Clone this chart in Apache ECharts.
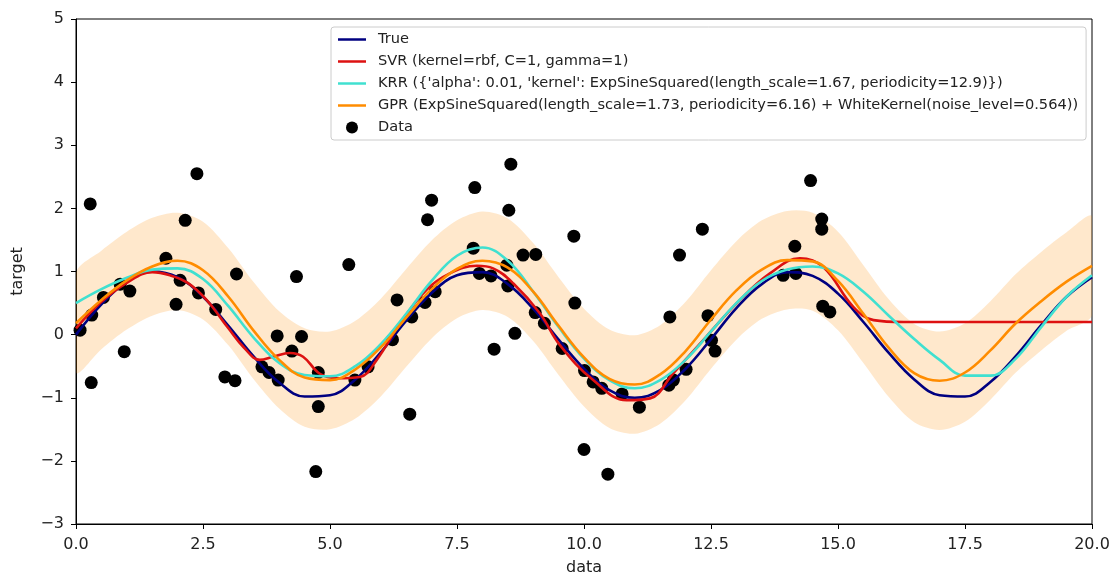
<!DOCTYPE html>
<html>
<head>
<meta charset="utf-8">
<script src="https://cdn.jsdelivr.net/npm/echarts@6/dist/echarts.min.js"></script>
<style>
html,body{margin:0;padding:0;background:#fff;}
#chart{width:1118px;height:579px;}
</style>
</head>
<body>
<div id="chart"></div>
<script>
// ---- data ----
var xTicks = [0, 2.5, 5, 7.5, 10, 12.5, 15, 17.5, 20];
var yTicks = [-3, -2, -1, 0, 1, 2, 3, 4, 5];

var seriesNames = [
  "True",
  "SVR (kernel=rbf, C=1, gamma=1)",
  "KRR ({'alpha': 0.01, 'kernel': ExpSineSquared(length_scale=1.67, periodicity=12.9)})",
  "GPR (ExpSineSquared(length_scale=1.73, periodicity=6.16) + WhiteKernel(noise_level=0.564))",
  "Data"
];

// common sample positions of the curves
var curveX = [0,0.5,1,1.5,2,2.5,3,3.5,4,4.5,5,5.5,6,6.5,7,7.5,8,8.5,9,9.5,10,
              10.5,11,11.5,12,12.5,13,13.5,14,14.5,15,15.5,16,16.5,17,17.5,18,18.5,19,19.5,20];

var trueY = [0,0.48,0.84,1.0,0.91,0.6,0.14,-0.35,-0.76,-0.98,-0.96,-0.71,-0.28,0.22,0.66,0.94,0.99,0.8,0.41,-0.08,
             -0.54,-0.88,-1.0,-0.88,-0.54,-0.07,0.42,0.8,0.99,0.93,0.65,0.2,-0.29,-0.71,-0.96,-0.98,-0.75,-0.34,0.15,0.6,0.91];

var svrX = [0,0.5,1,1.5,1.85,2.2,2.57,3.0,3.3,3.62,3.88,4.21,4.47,4.8,5.13,5.59,5.92,6.38,6.9,7.36,
            7.89,8.21,8.61,9.13,9.53,10.18,10.84,11.3,11.76,12.41,13.07,13.66,14.25,14.71,15.3,15.7,16.29,17,18,19,20];
var svrY = [0.1,0.52,0.82,0.99,0.94,0.82,0.55,0.1,-0.2,-0.40,-0.35,-0.29,-0.35,-0.62,-0.69,-0.67,-0.40,0.18,0.71,0.97,
            1.09,1.05,0.81,0.34,-0.17,-0.72,-1.04,-1.01,-0.61,-0.03,0.55,0.97,1.21,1.07,0.44,0.23,0.2,0.2,0.2,0.2,0.2];

var krrY = [0.5,0.72,0.9,1.03,1.05,0.88,0.45,-0.05,-0.45,-0.64,-0.66,-0.5,-0.15,0.33,0.85,1.25,1.38,1.17,0.68,0.12,
            -0.38,-0.72,-0.85,-0.72,-0.4,0.05,0.5,0.85,1.03,1.08,0.97,0.68,0.3,-0.07,-0.4,-0.65,-0.65,-0.38,0.12,0.6,0.94];

var gprY = [0.18,0.55,0.86,1.08,1.17,1.02,0.6,0.06,-0.4,-0.68,-0.72,-0.55,-0.2,0.27,0.72,1.04,1.17,1.06,0.68,0.14,
            -0.36,-0.7,-0.79,-0.63,-0.26,0.24,0.7,1.03,1.18,1.16,0.85,0.33,-0.21,-0.61,-0.73,-0.6,-0.25,0.18,0.53,0.84,1.09];

var bandUpper = [0.98,1.33,1.63,1.85,1.93,1.79,1.37,0.83,0.37,0.1,0.05,0.22,0.57,1.04,1.49,1.81,1.95,1.84,1.45,0.91,
                 0.41,0.08,-0.01,0.15,0.52,1.02,1.48,1.81,1.96,1.93,1.63,1.1,0.56,0.17,0.05,0.18,0.53,0.96,1.31,1.62,1.87];
var bandLower = [-0.6,-0.23,0.08,0.3,0.39,0.24,-0.17,-0.71,-1.17,-1.46,-1.5,-1.33,-0.98,-0.51,-0.06,0.26,0.39,0.28,-0.1,-0.64,
                 -1.14,-1.48,-1.57,-1.41,-1.04,-0.54,-0.08,0.25,0.4,0.38,0.07,-0.45,-0.99,-1.39,-1.51,-1.38,-1.03,-0.6,-0.25,0.06,0.31];

var dataX = [0.08,0.28,0.30,0.31,0.54,0.87,0.95,1.06,1.77,1.97,2.05,2.15,2.38,2.41,2.75,2.93,3.13,3.16,3.66,3.80,
             3.96,3.98,4.25,4.34,4.44,4.72,4.77,4.77,5.37,5.49,5.75,6.23,6.32,6.57,6.61,6.87,6.92,7.00,7.07,7.82,
             7.85,7.94,8.17,8.23,8.48,8.50,8.52,8.56,8.64,8.80,9.04,9.05,9.22,9.57,9.80,9.82,10.00,10.01,10.18,10.35,
             10.47,10.75,11.09,11.67,11.69,11.76,11.88,12.01,12.33,12.44,12.51,12.58,13.92,14.17,14.15,14.46,14.68,14.68,14.70,14.84];
var dataY = [0.07,2.07,-0.76,0.31,0.59,0.80,-0.27,0.69,1.21,0.48,0.86,1.81,2.55,0.66,0.40,-0.67,-0.73,0.96,-0.51,-0.60,
             -0.02,-0.72,-0.26,0.92,-0.03,-2.17,-0.60,-1.14,1.11,-0.72,-0.51,-0.08,0.55,-1.26,0.28,0.51,1.82,2.13,0.68,1.37,
             2.33,0.97,0.93,-0.23,1.10,0.77,1.97,2.70,0.02,1.26,0.35,1.27,0.18,-0.22,1.56,0.50,-1.82,-0.57,-0.75,-0.85,
             -2.21,-0.94,-1.15,-0.80,0.28,-0.72,1.26,-0.55,1.67,0.30,-0.09,-0.26,0.94,0.97,1.40,2.44,1.83,1.67,0.45,0.36];

// ---- build series data ----
function pairs(xs, ys){ return xs.map(function(x,i){ return [x, ys[i]]; }); }
var bandRows = curveX.map(function(x,i){ return [x, bandUpper[i], bandLower[i]]; });

var FONT = "DejaVu Sans";
var LINE_ICON = 'path://M0,0 L56,0 L56,5 L0,5 Z';
var chart = echarts.init(document.getElementById('chart'), null, {renderer:'canvas'});
chart.setOption({
  animation: false,
  backgroundColor: '#ffffff',
  grid: {left: 76, right: 26, top: 19, bottom: 55, containLabel: false, outerBoundsMode: 'none',
         show: true, borderColor: '#000', borderWidth: 1, backgroundColor: 'transparent'},
  xAxis: {
    type: 'value', min: 0, max: 20, interval: 2.5,
    name: 'data', nameLocation: 'middle', nameGap: 36,
    nameTextStyle: {fontFamily: FONT, fontSize: 16, color: '#222'},
    axisLine: {show: true, onZero: false, lineStyle: {color: '#000', width: 1}},
    axisTick: {show: true, inside: false, length: 5, lineStyle: {color: '#000'}},
    axisLabel: {fontFamily: FONT, fontSize: 16, color: '#222', margin: 13,
      formatter: function(v){ return xTicks.indexOf(v) >= 0 ? v.toFixed(1) : ''; }},
    splitLine: {show: false}
  },
  yAxis: {
    type: 'value', min: -3, max: 5, interval: 1,
    name: 'target', nameLocation: 'middle', nameGap: 50, nameRotate: 90,
    nameTextStyle: {fontFamily: FONT, fontSize: 16, color: '#222'},
    axisLine: {show: true, onZero: false, lineStyle: {color: '#000', width: 1}},
    axisTick: {show: true, inside: false, length: 5, lineStyle: {color: '#000'}},
    axisLabel: {fontFamily: FONT, fontSize: 16, color: '#222', margin: 12,
      formatter: function(v){ return yTicks.indexOf(v) >= 0 ? (v < 0 ? '\u2212' + Math.abs(v) : String(v)) : ''; }},
    splitLine: {show: false}
  },
  legend: {
    left: 331, top: 27, orient: 'vertical',
    padding: [4, 8, 4, 7],
    itemWidth: 28, itemHeight: 12, itemGap: 5,
    backgroundColor: 'rgba(255,255,255,0.85)', borderColor: '#cccccc', borderWidth: 1, borderRadius: 3,
    textStyle: {fontFamily: FONT, fontSize: 14.6, color: '#222', padding: [0,0,0,7], lineHeight: 17},
    data: [
      {name: seriesNames[0], icon: LINE_ICON},
      {name: seriesNames[1], icon: LINE_ICON},
      {name: seriesNames[2], icon: LINE_ICON},
      {name: seriesNames[3], icon: LINE_ICON},
      {name: seriesNames[4], icon: 'circle'}
    ]
  },
  series: [
    {name: seriesNames[4], type: 'scatter', data: pairs(dataX, dataY), symbolSize: 13,
     itemStyle: {color: '#000', opacity: 1}},
    {name: seriesNames[0], type: 'line', data: pairs(curveX, trueY), smooth: 0.4, symbol: 'none',
     lineStyle: {color: '#000080', width: 2.6}, itemStyle: {color: '#000080'}},
    {name: seriesNames[1], type: 'line', data: pairs(svrX, svrY), smooth: 0.4, symbol: 'none',
     lineStyle: {color: '#dd1111', width: 2.6}, itemStyle: {color: '#dd1111'}},
    {name: seriesNames[2], type: 'line', data: pairs(curveX, krrY), smooth: 0.4, symbol: 'none',
     lineStyle: {color: '#40e0d0', width: 2.6}, itemStyle: {color: '#40e0d0'}},
    {name: seriesNames[3], type: 'line', data: pairs(curveX, gprY), smooth: 0.4, symbol: 'none',
     lineStyle: {color: '#ff8c00', width: 2.6}, itemStyle: {color: '#ff8c00'}},
    {name: 'band', type: 'custom', data: bandRows, silent: true, clip: true,
     encode: {x: 0, y: [1, 2]},
     renderItem: function(params, api){
       if (params.dataIndex !== 0) return null;
       var up = [], lo = [];
       for (var i = 0; i < bandRows.length; i++) {
         up.push(api.coord([bandRows[i][0], bandRows[i][1]]));
         lo.push(api.coord([bandRows[i][0], bandRows[i][2]]));
       }
       var pts = up.concat(lo.reverse());
       return {type: 'polygon', shape: {points: pts, smooth: 0.3},
               style: {fill: 'rgba(255,140,0,0.2)', stroke: null}};
     }}
  ]
});
</script>
</body>
</html>
